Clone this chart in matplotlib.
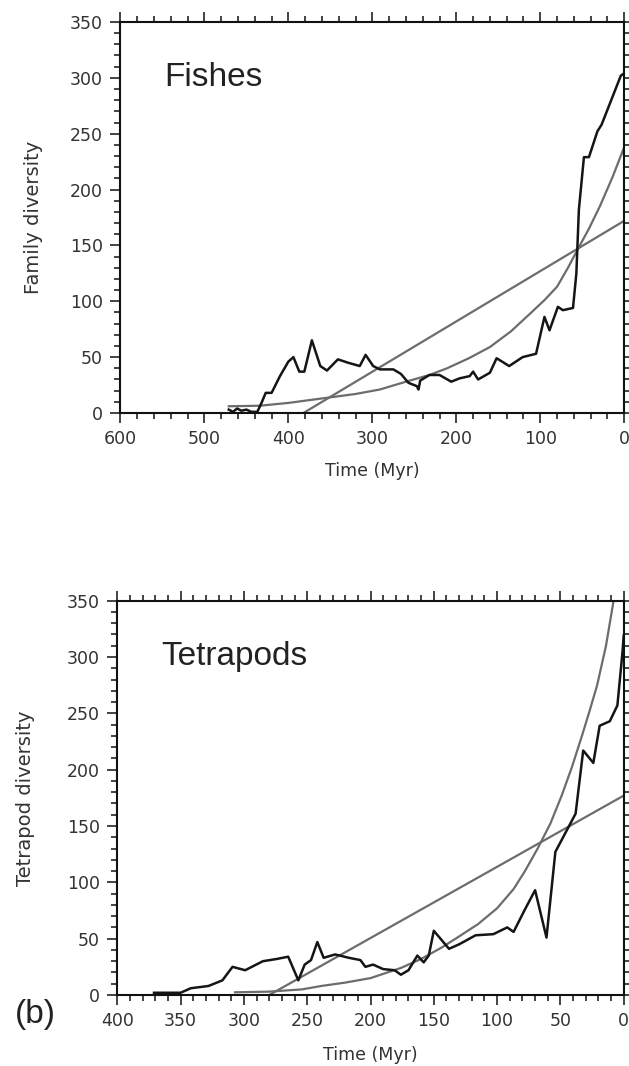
import matplotlib
matplotlib.use("Agg")
import matplotlib.pyplot as plt
from matplotlib.ticker import MultipleLocator

# fishes: family diversity through time (Myr before present)
fish_t = [471, 466, 461, 456, 450, 444, 437, 432, 427, 420, 410, 400, 394, 387, 381,
          372, 362, 354, 341, 329, 315, 308, 299, 291, 275, 266, 257, 247, 245, 243,
          232, 220, 206, 196, 184, 180, 174, 160, 152, 137, 121, 105, 95, 89, 79, 73,
          61, 57, 54, 48, 42, 32, 27, 16, 4, 0]
fish_v = [3, 1, 4, 2, 3, 1, 1, 9, 18, 18, 33, 46, 50, 37, 37,
          65, 42, 38, 48, 45, 42, 52, 42, 39, 39, 35, 27, 24, 21, 29,
          34, 34, 28, 31, 33, 37, 30, 36, 49, 42, 50, 53, 86, 74, 95, 92,
          94, 125, 182, 229, 229, 252, 258, 279, 302, 304]
fish_exp_t = [471, 434, 400, 350, 320, 291, 260, 232, 211, 185, 160, 135, 112, 95,
              80, 67, 55, 42, 29, 14, 0]
fish_exp_v = [6, 6.5, 9, 14, 17, 21, 28, 34, 40, 49, 59, 73, 89, 101,
              113, 130, 147, 165, 185, 211, 238]
fish_lin_t = [382, 0]
fish_lin_v = [0, 172]

# tetrapods
tet_t = [371, 360, 350, 342, 328, 317, 309, 299, 285, 274, 265, 257, 252, 247, 242,
         237, 228, 217, 208, 204, 198, 190, 181, 176, 170, 163, 158, 154, 150, 138,
         130, 117, 103, 92, 87, 78, 70, 61, 54, 46, 38, 32, 24, 19, 11, 5, 1, 0]
tet_v = [2, 2, 2, 6, 8, 13, 25, 22, 30, 32, 34, 13, 27, 31, 47,
         33, 36, 33, 31, 25, 27, 23, 22, 18, 22, 35, 29, 35, 57, 41,
         45, 53, 54, 60, 56, 76, 93, 51, 127, 144, 161, 217, 206, 239, 243, 257, 304, 319]
tet_exp_t = [307, 280, 254, 239, 220, 200, 176, 160, 144, 130, 115, 100, 87, 78,
             68, 58, 49, 41, 33, 27, 21, 14, 8]
tet_exp_v = [2.4, 3, 5, 8, 11, 15, 24, 32, 42, 52, 63, 77, 94, 110,
             130, 152, 177, 202, 230, 252, 275, 310, 350]
tet_lin_t = [280, 0]
tet_lin_v = [0, 177]

BLACK = '#151515'
GRAY = '#6c6c6c'
TXT = '#333333'

fig = plt.figure(figsize=(6.29, 10.66), dpi=100)
ax1 = fig.add_axes([0.1915, 0.6126, 0.8009, 0.3668])
ax2 = fig.add_axes([0.1865, 0.0666, 0.8051, 0.3699])


def style(ax, xmax, xmaj, xmin, name, ylab, lx, ly):
    ax.set_xlim(xmax, 0)
    ax.set_ylim(0, 350)
    ax.xaxis.set_major_locator(MultipleLocator(xmaj))
    ax.xaxis.set_minor_locator(MultipleLocator(xmin))
    ax.yaxis.set_major_locator(MultipleLocator(50))
    ax.yaxis.set_minor_locator(MultipleLocator(10))
    ax.tick_params(which='both', direction='out', top=True, right=True,
                   width=1.1, color='#111111', labelcolor=TXT, labelsize=12.5)
    ax.tick_params(which='major', length=7.5, pad=5)
    ax.tick_params(which='minor', length=4)
    for s in ax.spines.values():
        s.set_linewidth(1.5)
        s.set_color('#111111')
    ax.set_xlabel('Time (Myr)', fontsize=12.5, color=TXT)
    ax.xaxis.set_label_coords(0.5, ly)
    ax.set_ylabel(ylab, fontsize=14, color=TXT)
    ax.yaxis.set_label_coords(lx, 0.5)
    ax.text(0.087, 0.858, name, transform=ax.transAxes, fontsize=24,
            family='Liberation Sans', color='#222222', va='center', ha='left')


ax1.plot(fish_lin_t, fish_lin_v, color=GRAY, lw=1.6)
ax1.plot(fish_exp_t, fish_exp_v, color=GRAY, lw=1.6)
ax1.plot(fish_t, fish_v, color=BLACK, lw=1.8)
style(ax1, 600, 100, 20, 'Fishes', 'Family diversity', -0.154, -0.125)

ax2.plot(tet_lin_t, tet_lin_v, color=GRAY, lw=1.6)
ax2.plot(tet_exp_t, tet_exp_v, color=GRAY, lw=1.6)
ax2.plot(tet_t, tet_v, color=BLACK, lw=1.8)
style(ax2, 400, 50, 10, 'Tetrapods', 'Tetrapod diversity', -0.163, -0.13)

fig.text(0.057, 0.048, '(b)', fontsize=24, family='Liberation Sans',
         color='#222222', ha='center', va='center')

fig.savefig('out.png', dpi=100)
